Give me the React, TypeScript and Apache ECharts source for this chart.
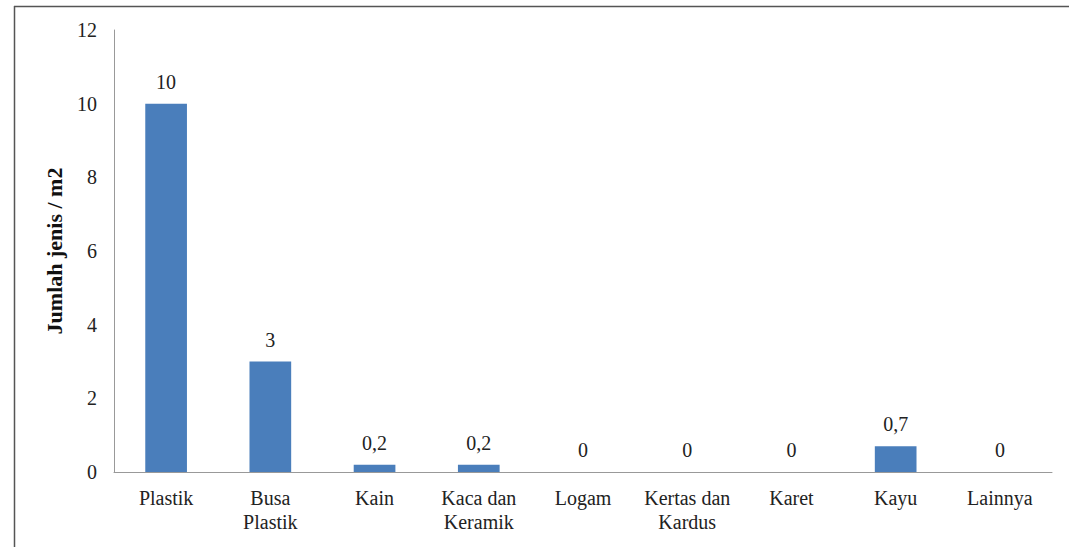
import React, { useEffect, useRef } from "react";
import * as echarts from "echarts";

const categories = ["Plastik", "Busa\nPlastik", "Kain", "Kaca dan\nKeramik", "Logam", "Kertas dan\nKardus", "Karet", "Kayu", "Lainnya"];
const values = [10, 3, 0.2, 0.2, 0, 0, 0, 0.7, 0];
const yTicks = { min: 0, max: 12, interval: 2 };
const yAxisName = "Jumlah jenis / m2";

const FONT = "Liberation Serif";

export default function App() {
  const ref = useRef<HTMLDivElement>(null);
  useEffect(() => {
    if (!ref.current) return;
    const chart = echarts.init(ref.current, null, { renderer: "svg" });
    chart.setOption({
      animation: false,
      backgroundColor: "#ffffff",
      textStyle: { fontFamily: FONT },
      grid: { left: 114, top: 30, right: 17, bottom: 75, containLabel: false },
      graphic: [
        { type: "line", shape: { x1: 14, y1: 6.5, x2: 1069, y2: 6.5 }, style: { stroke: "#555", lineWidth: 1.5 } },
        { type: "line", shape: { x1: 14.5, y1: 6, x2: 14.5, y2: 547 }, style: { stroke: "#555", lineWidth: 1.5 } },
      ],
      xAxis: {
        type: "category",
        data: categories,
        axisLine: { lineStyle: { color: "#999", width: 1 } },
        axisTick: { show: false },
        axisLabel: { color: "#222", fontFamily: FONT, fontSize: 20, margin: 14, lineHeight: 24, interval: 0 },
      },
      yAxis: {
        type: "value",
        min: yTicks.min,
        max: yTicks.max,
        interval: yTicks.interval,
        name: yAxisName,
        nameLocation: "middle",
        nameRotate: 90,
        nameGap: 49,
        nameTextStyle: { color: "#111", fontFamily: FONT, fontSize: 22, fontWeight: "bold" },
        axisLine: { show: true, lineStyle: { color: "#999", width: 1 } },
        axisTick: { show: false },
        splitLine: { show: false },
        axisLabel: { color: "#222", fontFamily: FONT, fontSize: 20, margin: 17 },
      },
      series: [
        {
          type: "bar",
          data: values,
          barWidth: "40%",
          itemStyle: { color: "#4A7EBB" },
          label: {
            show: true,
            position: "top",
            distance: 12,
            color: "#222",
            fontFamily: FONT,
            fontSize: 20,
            formatter: (p: any) => String(p.value).replace(".", ","),
          },
        },
      ],
    });
    return () => chart.dispose();
  }, []);
  return <div ref={ref} style={{ width: 1069, height: 547, position: "absolute", left: 0, top: 0 }} />;
}
